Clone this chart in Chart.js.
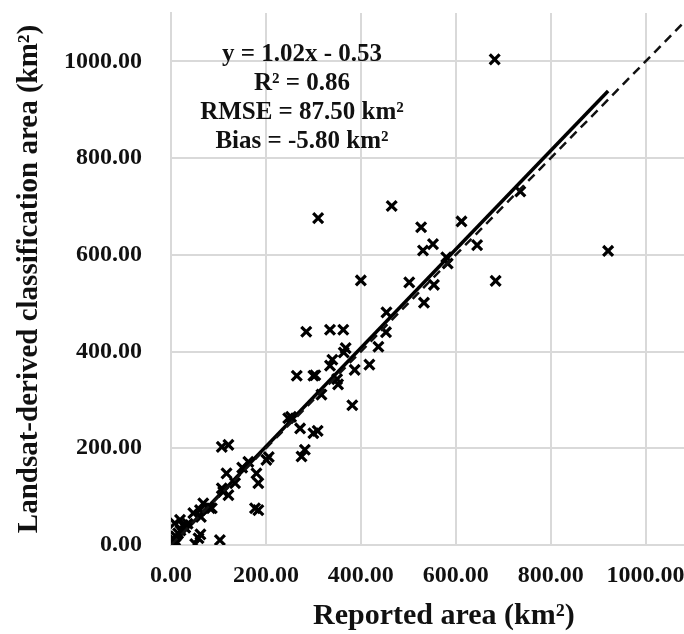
<!DOCTYPE html>
<html>
<head>
<meta charset="utf-8">
<script src="https://cdn.jsdelivr.net/npm/chart.js@4.4.1/dist/chart.umd.min.js"></script>
<style>
    html, body { margin: 0; padding: 0; background: #ffffff; overflow: hidden; }
    #wrap { width: 684px; height: 634px; overflow: hidden; }
</style>
</head>
<body>
<div id="wrap"><canvas id="graphSurface" width="727" height="634"></canvas></div>
<script>
// ============================================
// Données
// ============================================
var reportedArea = [
    682, 921, 684, 736, 612, 645, 465, 310, 527, 552,
    531, 580, 583, 400, 502, 554, 533, 454, 453, 437,
    418, 387, 382, 285, 335, 363, 368, 364, 340, 335,
    350, 352, 265, 300, 304, 317, 247, 253, 272, 300,
    309, 282, 275, 201, 206, 163, 180, 184, 177, 184,
    107, 121, 117, 121, 107, 135, 110, 86, 68, 61,
    63, 47, 103, 58, 62, 51, 25, 19, 8, 15,
    8, 5, 12, 20, 30, 35, 10, 82, 150
];
var landsatArea = [
    1004, 608, 546, 731, 669, 620, 701, 676, 657, 622,
    609, 595, 582, 547, 543, 538, 501, 481, 440, 410,
    373, 362, 289, 441, 445, 445, 407, 398, 383, 371,
    343, 332, 350, 350, 351, 311, 262, 265, 241, 231,
    236, 197, 183, 176, 182, 172, 148, 128, 76, 72,
    203, 207, 148, 103, 117, 128, 110, 76, 86, 72,
    58, 66, 10, 14, 22, 2, 41, 52, 45, 24,
    10, 2, 5, 30, 36, 44, 18, 76, 160
];

// Droite de régression (équation affichée) et droite 1:1
var trendSlope = 1.02;
var trendIntercept = -0.53;
var trendRange = [0, 921];
var identityRange = [0, 1100];

var tickValues = [0, 200, 400, 600, 800, 1000];

var noteLines = ["y = 1.02x - 0.53", "R\u00B2 = 0.86", "RMSE = 87.50 km\u00B2", "Bias = -5.80 km\u00B2"];
var noteAnchor = [276, 1014];

// ============================================
// Construction du graphique
// ============================================
var points = reportedArea.map(function (x, i) {
    return { x: x, y: landsatArea[i] };
});
var trendPoints = trendRange.map(function (x) {
    return { x: x, y: trendSlope * x + trendIntercept };
});
var identityPoints = identityRange.map(function (x) {
    return { x: x, y: x };
});

var fontName = "'Liberation Serif', 'Times New Roman', serif";
var gridColor = "#d9d9d9";

// Texte des statistiques
var notePlugin = {
    id: "notePlugin",
    afterDatasetsDraw: function (chart) {
        var ctx = chart.ctx;
        var px = chart.scales.x.getPixelForValue(noteAnchor[0]);
        var py = chart.scales.y.getPixelForValue(noteAnchor[1]);
        ctx.save();
        ctx.font = "bold 25px " + fontName;
        ctx.fillStyle = "#111111";
        ctx.textAlign = "center";
        ctx.textBaseline = "middle";
        noteLines.forEach(function (t, i) {
            ctx.fillText(t, px, py + i * 29);
        });
        ctx.restore();
    }
};

function fixedTicks(scale) {
    scale.ticks = tickValues.map(function (v) { return { value: v }; });
}

var ctx = document.getElementById("graphSurface").getContext("2d");
new Chart(ctx, {
    type: "scatter",
    data: {
        datasets: [
            {
                label: "1:1",
                data: identityPoints,
                showLine: true,
                borderColor: "#111111",
                borderWidth: 2.5,
                borderDash: [9, 6],
                pointRadius: 0,
                fill: false
            },
            {
                label: "Régression",
                data: trendPoints,
                showLine: true,
                borderColor: "#000000",
                borderWidth: 3.5,
                pointRadius: 0,
                fill: false
            },
            {
                label: "Lacs",
                data: points,
                pointStyle: "crossRot",
                pointRadius: 7,
                borderColor: "#000000",
                backgroundColor: "#000000",
                pointBorderWidth: 3.2
            }
        ]
    },
    options: {
        responsive: false,
        animation: false,
        layout: { padding: { top: 13, right: 0, left: 0, bottom: 0 } },
        plugins: {
            legend: { display: false },
            tooltip: { enabled: false }
        },
        scales: {
            x: {
                type: "linear",
                min: 0,
                max: 1150,
                afterBuildTicks: fixedTicks,
                afterFit: function (scale) {
                    scale.height = 89;
                    scale.paddingLeft = 0;
                    scale.paddingRight = 0;
                },
                grid: { color: gridColor, lineWidth: 2, drawTicks: false },
                border: { color: gridColor, width: 2 },
                ticks: {
                    padding: 16,
                    maxRotation: 0,
                    color: "#111111",
                    font: { family: fontName, size: 24, weight: "bold" },
                    callback: function (v) { return Number(v).toFixed(2); }
                },
                title: {
                    display: true,
                    text: "Reported area (km\u00B2)",
                    color: "#111111",
                    padding: { top: 0, bottom: 0 },
                    font: { family: fontName, size: 30, weight: "bold" }
                }
            },
            y: {
                type: "linear",
                min: 0,
                max: 1100,
                afterBuildTicks: fixedTicks,
                afterFit: function (scale) {
                    scale.width = 171;
                    scale.paddingTop = 0;
                    scale.paddingBottom = 0;
                },
                grid: { color: gridColor, lineWidth: 2, drawTicks: false },
                border: { color: gridColor, width: 2 },
                ticks: {
                    padding: 29,
                    color: "#111111",
                    font: { family: fontName, size: 24, weight: "bold" },
                    callback: function (v) { return Number(v).toFixed(2); }
                },
                title: {
                    display: true,
                    text: "Landsat-derived classification area (km\u00B2)",
                    color: "#111111",
                    padding: { top: 12, bottom: 0 },
                    font: { family: fontName, size: 29, weight: "bold" }
                }
            }
        }
    },
    plugins: [notePlugin]
});
</script>
</body>
</html>
